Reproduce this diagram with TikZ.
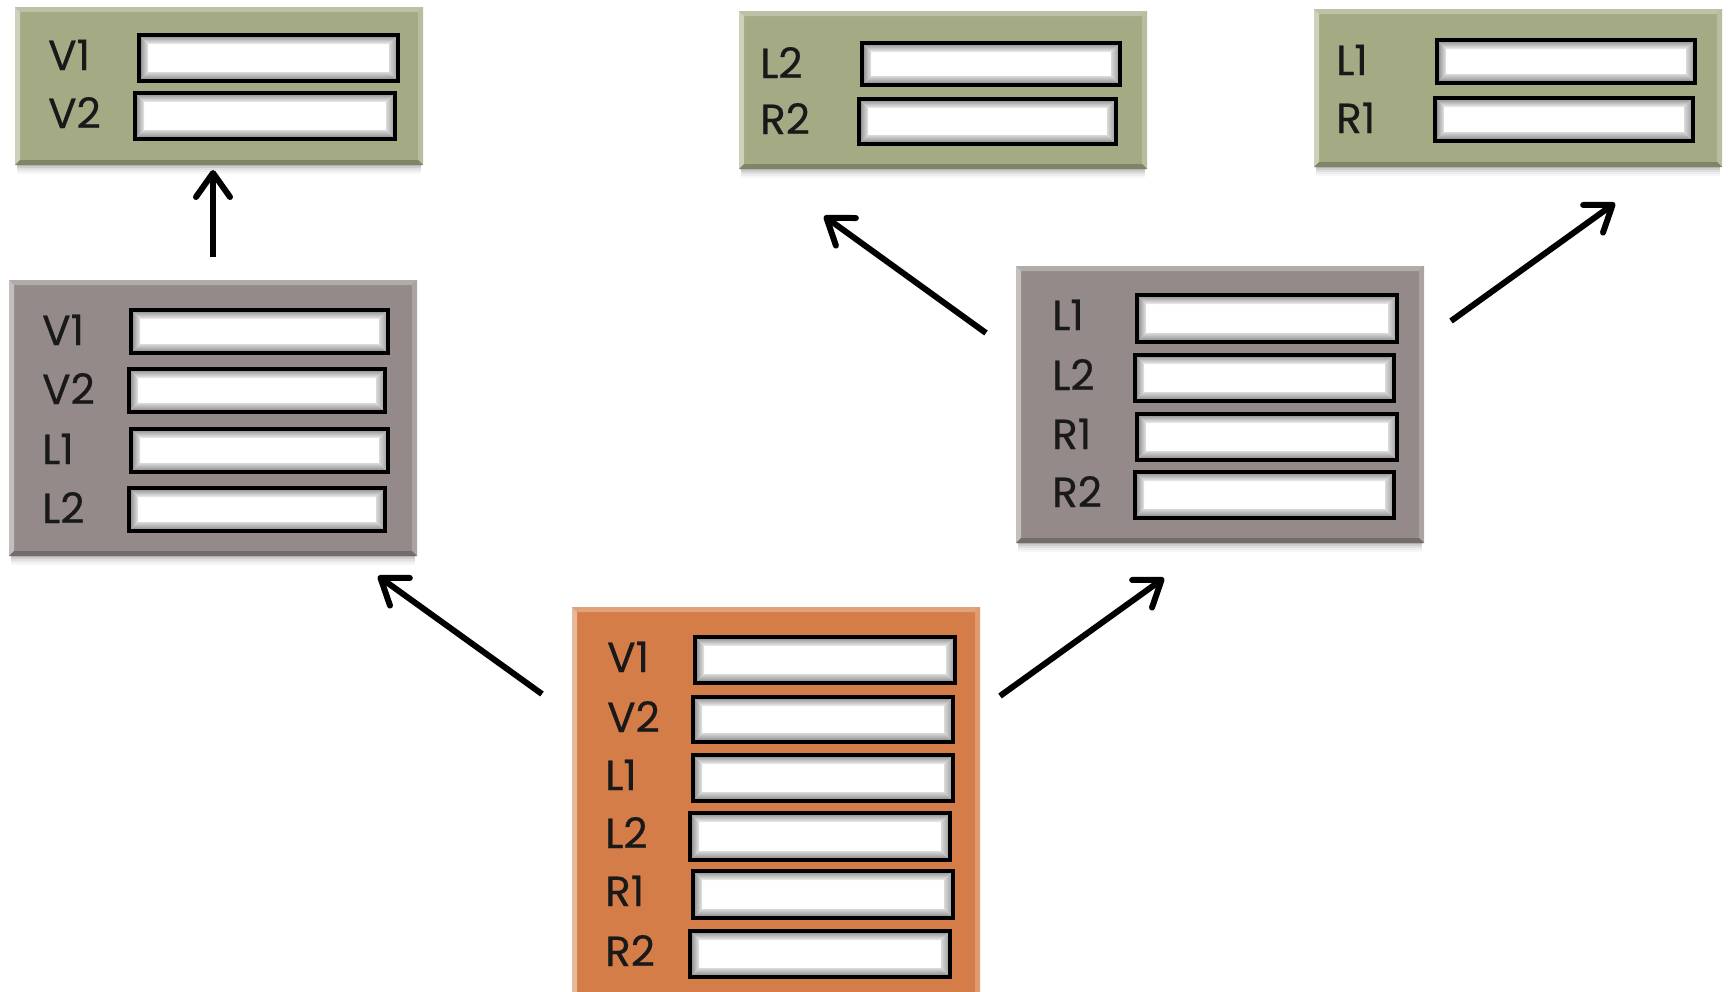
\documentclass[tikz,border=0pt]{standalone}
\usepackage{fontspec}
\setmainfont{Poppins}
\newfontfamily\lblfont{Poppins}[FakeBold=0.5]
\usetikzlibrary{arrows.meta,calc}

\definecolor{sage}{HTML}{A3AA84}
\definecolor{taupe}{HTML}{938A89}
\definecolor{clay}{HTML}{D57D48}

\tikzset{
  panelbox/.style={anchor=north west, minimum width=408pt, inner sep=0pt, outer sep=0pt,
    path picture={
      \coordinate (pa) at (path picture bounding box.north west);
      \coordinate (pb) at (path picture bounding box.north east);
      \coordinate (pc) at (path picture bounding box.south east);
      \coordinate (pd) at (path picture bounding box.south west);
      \coordinate (pA) at ($(pa)+(5pt,-5pt)$);
      \coordinate (pB) at ($(pb)+(-5pt,-5pt)$);
      \coordinate (pC) at ($(pc)+(-5pt,5pt)$);
      \coordinate (pD) at ($(pd)+(5pt,5pt)$);
      \fill[\pcol!72!white] (pa) -- (pb) -- (pB) -- (pA) -- cycle;
      \fill[\pcol!55!white] (pa) -- (pA) -- (pD) -- (pd) -- cycle;
      \fill[\pcol!78!white] (pb) -- (pc) -- (pC) -- (pB) -- cycle;
      \fill[\pcol!78!black] (pd) -- (pD) -- (pC) -- (pc) -- cycle;
    }},
  fieldbox/.style={draw=black, line width=4pt, fill=white, inner sep=0pt, outer sep=0pt,
    path picture={
      \coordinate (q1) at ($(path picture bounding box.north west)+(2pt,-2pt)$);
      \coordinate (q2) at ($(path picture bounding box.north east)+(-2pt,-2pt)$);
      \coordinate (q3) at ($(path picture bounding box.south east)+(-2pt,2pt)$);
      \coordinate (q4) at ($(path picture bounding box.south west)+(2pt,2pt)$);
      \coordinate (r1) at ($(q1)+(7pt,-7pt)$);
      \coordinate (r2) at ($(q2)+(-7pt,-7pt)$);
      \coordinate (r3) at ($(q3)+(-7pt,7pt)$);
      \coordinate (r4) at ($(q4)+(7pt,7pt)$);
      \shade[top color=gray!75, bottom color=gray!12] (q1) -- (q2) -- (r2) -- (r1) -- cycle;
      \shade[left color=gray!80, right color=gray!20] (q1) -- (r1) -- (r4) -- (q4) -- cycle;
      \shade[top color=gray!30, bottom color=gray!85] (q4) -- (r4) -- (r3) -- (q3) -- cycle;
      \shade[left color=gray!30, right color=gray!70] (q2) -- (q3) -- (r3) -- (r2) -- cycle;
    }},
  lbl/.style={anchor=base west, inner sep=0pt, text=black!90,
    font=\lblfont\fontsize{42pt}{42pt}\selectfont},
  arr/.style={line width=6pt, -{Straight Barb[length=24pt, width=34pt, round]}},
}

% panel: name, colour, left, top, height
\newcommand{\panel}[5]{%
  \foreach \d/\o in {1/.10,3/.08,5/.06,7/.04,9/.03}
    \fill[black, opacity=\o] (#3+2,#4+8) rectangle (#3+406,#4+#5+\d);
  \def\pcol{#2}%
  \node[panelbox, fill=#2, minimum height=#5pt] (#1) at (#3,#4) {};
}

% field row: name, label x, label text, x1, y1, x2, y2
\newcommand{\entry}[7]{%
  \pgfmathsetmacro\fw{#6-#4-4}\pgfmathsetmacro\fh{#7-#5-4}%
  \node[fieldbox, minimum width=\fw pt, minimum height=\fh pt] (#1f) at ({(#4+#6)/2},{(#5+#7)/2}) {};
  \node[lbl] (#1l) at (#2,#5+37) {#3};
}

\begin{document}
\begin{tikzpicture}[x=1pt, y=-1pt]
\useasboundingbox (0,0) rectangle (1731,991);
\clip (0,0) rectangle (1731,991);

% top-left result panel
\panel{pvv}{sage}{15}{7}{158}
\entry{pvvA}{48}{V1}{137}{33}{400}{83}
\entry{pvvB}{48}{V2}{133}{91}{397}{141}

% top-middle result panel
\panel{plr}{sage}{739}{11}{158}
\entry{plrA}{760}{L2}{860}{41}{1122}{87}
\entry{plrB}{760}{R2}{857}{97}{1118}{146}

% top-right result panel
\panel{prr}{sage}{1314}{9}{158}
\entry{prrA}{1336}{L1}{1435}{38}{1697}{85}
\entry{prrB}{1336}{R1}{1433}{96}{1695}{143}

% left intermediate panel
\panel{pleft}{taupe}{9}{280}{276}
\entry{plA}{42}{V1}{129}{308}{390}{355}
\entry{plB}{42}{V2}{127}{367}{387}{414}
\entry{plC}{42}{L1}{129}{427}{390}{474}
\entry{plD}{42}{L2}{127}{486}{387}{533}

% right intermediate panel
\panel{pright}{taupe}{1016}{266}{277}
\entry{prA}{1052}{L1}{1135}{293}{1399}{344}
\entry{prB}{1052}{L2}{1133}{353}{1396}{403}
\entry{prC}{1052}{R1}{1135}{412}{1399}{462}
\entry{prD}{1052}{R2}{1133}{470}{1396}{520}

% bottom source panel
\panel{psrc}{clay}{572}{607}{400}
\entry{psA}{607}{V1}{693}{635}{957}{685}
\entry{psB}{607}{V2}{691}{695}{955}{744}
\entry{psC}{605}{L1}{691}{753}{955}{803}
\entry{psD}{605}{L2}{688}{811}{952}{862}
\entry{psE}{605}{R1}{691}{869}{955}{920}
\entry{psF}{605}{R2}{688}{929}{952}{979}

% arrow end points
\coordinate (s1) at (213,257);  \coordinate (e1) at (213,170);
\coordinate (s2) at (542,694);  \coordinate (e2) at (378,576);
\coordinate (s3) at (1000,696); \coordinate (e3) at (1164,578);
\coordinate (s4) at (986,333);  \coordinate (e4) at (824,216);
\coordinate (s5) at (1451,321); \coordinate (e5) at (1615,203);

\draw[arr] (s1) -- (e1);
\draw[arr] (s2) -- (e2);
\draw[arr] (s3) -- (e3);
\draw[arr] (s4) -- (e4);
\draw[arr] (s5) -- (e5);
\end{tikzpicture}
\end{document}
